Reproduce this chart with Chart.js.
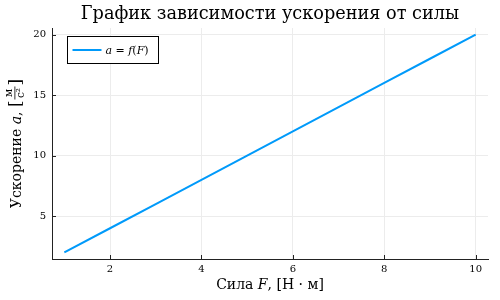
<!DOCTYPE html>
<html>
<head>
<meta charset="utf-8">
<script src="https://cdn.jsdelivr.net/npm/chart.js@4.4.1/dist/chart.umd.min.js"></script>
<style>
  html, body { margin: 0; padding: 0; background: #fff; }
  #wrap { width: 500px; height: 300px; }
</style>
</head>
<body>
<div id="wrap"><canvas id="myChart"></canvas></div>
<script>
const ctx = document.getElementById("myChart");

// data
var forceValues = [1, 2, 3, 4, 5, 6, 7, 8, 9, 10];
var accelValues = [2, 4, 6, 8, 10, 12, 14, 16, 18, 20];
var xTickValues = [2, 4, 6, 8, 10];
var yTickValues = [5, 10, 15, 20];
var seriesLabel = "a = f(F)";

const SERIF = "'DejaVu Serif', 'Liberation Serif', serif";
const LINE_COLOR = "#009afa";

// draws runs of text with mixed roman / italic parts, returns end x
function drawRuns(c, runs, x, y, size) {
  runs.forEach(function (r) {
    c.font = (r[1] ? "italic " : "") + size + "px " + SERIF;
    c.fillText(r[0], x, y);
    x += c.measureText(r[0]).width;
  });
  return x;
}
function runsWidth(c, runs, size) {
  var w = 0;
  runs.forEach(function (r) {
    c.font = (r[1] ? "italic " : "") + size + "px " + SERIF;
    w += c.measureText(r[0]).width;
  });
  return w;
}

const decorations = {
  id: "decorations",
  afterDraw: function (chart) {
    const c = chart.ctx;
    const a = chart.chartArea;
    const xs = chart.scales.x;
    const ys = chart.scales.y;
    c.save();
    c.fillStyle = "#000";
    c.textBaseline = "alphabetic";

    // inward tick marks
    c.strokeStyle = "#222";
    c.lineWidth = 1;
    c.beginPath();
    xTickValues.forEach(function (v) {
      const px = Math.round(xs.getPixelForValue(v)) + 0.5;
      c.moveTo(px, a.bottom);
      c.lineTo(px, a.bottom - 4);
    });
    yTickValues.forEach(function (v) {
      const py = Math.round(ys.getPixelForValue(v)) + 0.5;
      c.moveTo(a.left, py);
      c.lineTo(a.left + 4, py);
    });
    c.stroke();

    // title
    c.font = "17.7px " + SERIF;
    c.textAlign = "center";
    c.fillText("График зависимости ускорения от силы", (a.left + a.right) / 2, 18.5);
    c.textAlign = "left";

    // x axis title
    const xRuns = [["Сила ", false], ["F", true], [", [Н · м]", false]];
    const xw = runsWidth(c, xRuns, 14);
    drawRuns(c, xRuns, (a.left + a.right) / 2 - xw / 2, 289, 14);

    // y axis title, rotated, with a fraction for the unit
    const yRuns = [["Ускорение ", false], ["a", true], [", ", false]];
    const fracW = 13;
    c.font = "17px " + SERIF;
    const brW = c.measureText("[").width;
    const yw = runsWidth(c, yRuns, 14) + 2 * brW + fracW + 2;
    c.translate(21, (a.top + a.bottom) / 2);
    c.rotate(-Math.PI / 2);
    let ex = drawRuns(c, yRuns, -yw / 2, 0, 14);
    c.font = "17px " + SERIF;
    c.fillText("[", ex, 0);
    ex += brW + 1;
    c.font = "10.5px " + SERIF;
    c.textAlign = "center";
    c.fillText("м", ex + fracW / 2, -9.5);
    c.fillText("с²", ex + fracW / 2, 2.5);
    c.fillRect(ex, -6.5, fracW, 0.8);
    c.textAlign = "left";
    c.font = "17px " + SERIF;
    c.fillText("]", ex + fracW + 1, 0);
    c.setTransform(1, 0, 0, 1, 0, 0);

    // legend inside the plot, top left
    const lx = a.left + 15.5, ly = a.top + 8.5;
    c.fillStyle = "#fff";
    c.fillRect(lx, ly, 91, 27);
    c.strokeStyle = "#000";
    c.lineWidth = 1;
    c.strokeRect(lx, ly, 91, 27);
    c.strokeStyle = LINE_COLOR;
    c.lineWidth = 2;
    c.beginPath();
    c.moveTo(lx + 5, ly + 13.5);
    c.lineTo(lx + 34, ly + 13.5);
    c.stroke();
    c.fillStyle = "#000";
    drawRuns(c, [["a", true], [" = ", false], ["f", true], ["(", false], ["F", true], [")", false]], lx + 38, ly + 17, 11);
    c.restore();
  },
};

function fixTicks(values) {
  return function (scale) {
    scale.ticks = values.map(function (v) { return { value: v }; });
  };
}

new Chart(ctx, {
  type: "line",
  data: {
    datasets: [
      {
        label: seriesLabel,
        data: forceValues.map(function (f, i) { return { x: f, y: accelValues[i] }; }),
        borderColor: LINE_COLOR,
        borderWidth: 2,
        pointRadius: 0,
        tension: 0,
        fill: false,
      },
    ],
  },
  options: {
    responsive: true,
    maintainAspectRatio: false,
    animation: false,
    layout: { padding: { top: 28, right: 12, left: 0, bottom: 0 } },
    plugins: {
      legend: { display: false },
      title: { display: false },
      tooltip: { enabled: false },
    },
    scales: {
      x: {
        type: "linear",
        min: 0.73,
        max: 10.27,
        afterBuildTicks: fixTicks(xTickValues),
        afterFit: function (s) { s.height = 41; },
        grid: { color: "#ececec", drawTicks: false },
        border: { color: "#222" },
        ticks: {
          padding: 4,
          color: "#000",
          font: { family: SERIF, size: 10 },
          maxRotation: 0,
        },
      },
      y: {
        type: "linear",
        min: 1.46,
        max: 20.54,
        afterBuildTicks: fixTicks(yTickValues),
        afterFit: function (s) { s.width = 52; },
        grid: { color: "#ececec", drawTicks: false },
        border: { color: "#222" },
        ticks: {
          padding: 6,
          color: "#000",
          font: { family: SERIF, size: 10 },
        },
      },
    },
  },
  plugins: [decorations],
});
</script>
</body>
</html>
